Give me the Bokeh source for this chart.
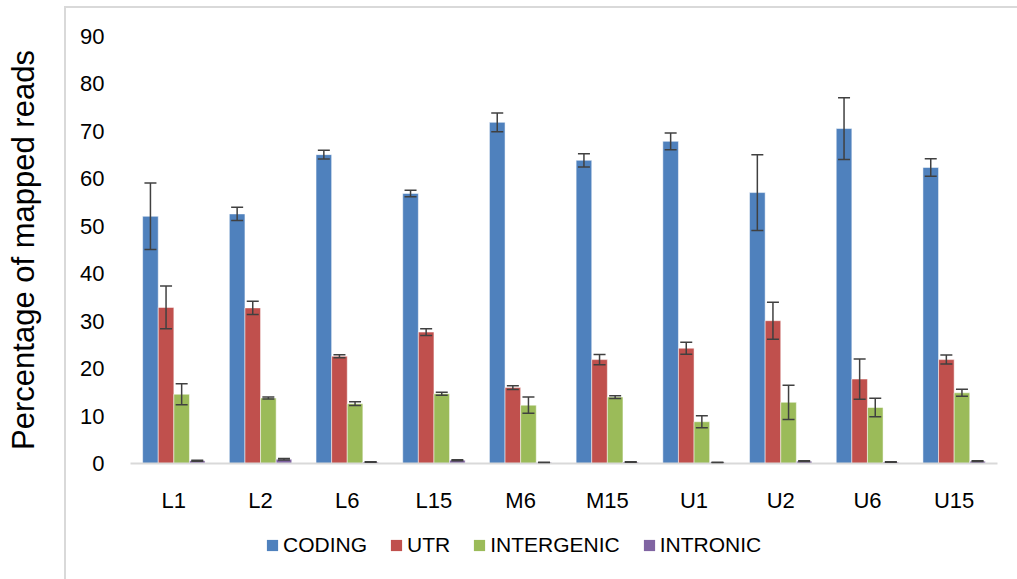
from bokeh.plotting import figure
from bokeh.layouts import column
from bokeh.models import (ColumnDataSource, FactorRange, Whisker, TeeHead, Legend,
                          LegendItem, FixedTicker, Range1d)
from bokeh.transform import dodge
from bokeh.embed import file_html
from bokeh.resources import INLINE

samples = ["L1", "L2", "L6", "L15", "M6", "M15", "U1", "U2", "U6", "U15"]
series = ["CODING", "UTR", "INTERGENIC", "INTRONIC"]
colors = ["#4F81BD", "#C0504D", "#9BBB59", "#8064A2"]

coding = [52.1, 52.6, 65.1, 56.9, 71.9, 63.9, 67.9, 57.1, 70.6, 62.4]
coding_err = [7.0, 1.4, 0.9, 0.7, 2.0, 1.4, 1.75, 8.0, 6.5, 1.85]
utr = [32.9, 32.8, 22.6, 27.7, 16.0, 21.9, 24.3, 30.1, 17.8, 21.9]
utr_err = [4.5, 1.4, 0.3, 0.7, 0.4, 1.1, 1.25, 3.9, 4.25, 0.95]
intergenic = [14.6, 13.8, 12.6, 14.7, 12.3, 14.0, 8.8, 12.9, 11.8, 14.9]
intergenic_err = [2.2, 0.2, 0.4, 0.3, 1.7, 0.3, 1.25, 3.6, 1.95, 0.75]
intronic = [0.6, 0.9, 0.3, 0.7, 0.2, 0.3, 0.2, 0.5, 0.3, 0.5]
intronic_err = [0.1, 0.15, 0.05, 0.1, 0.05, 0.05, 0.05, 0.1, 0.05, 0.1]

values = [coding, utr, intergenic, intronic]
errors = [coding_err, utr_err, intergenic_err, intronic_err]
offsets = [-0.27, -0.09, 0.09, 0.27]

font = "Liberation Sans"

# ---------------- main chart ----------------
x_range = FactorRange(*samples, range_padding=0)
p = figure(x_range=x_range, y_range=Range1d(0, 90),
           width=1017, height=515, output_backend="svg", toolbar_location=None,
           min_border_left=130, min_border_right=20, min_border_top=36,
           min_border_bottom=50)
p.outline_line_color = None
p.xgrid.grid_line_color = None
p.ygrid.grid_line_color = None
p.border_fill_alpha = 0
p.background_fill_color = "white"

# ---------------- legend strip (frame aligned with the chart's frame) ----------------
pl = figure(width=1017, height=64, output_backend="svg", toolbar_location=None,
            x_range=x_range, y_range=Range1d(100, 101),
            x_axis_location=None, y_axis_location=None,
            min_border_left=0, min_border_right=0, min_border_top=0,
            min_border_bottom=0)
pl.outline_line_color = None
pl.grid.grid_line_color = None
pl.border_fill_alpha = 0
pl.background_fill_alpha = 0

items = []
for name, col, vals, errs, off in zip(series, colors, values, errors, offsets):
    src = ColumnDataSource(dict(
        x=samples, top=vals,
        upper=[v + e for v, e in zip(vals, errs)],
        lower=[v - e for v, e in zip(vals, errs)]))
    p.vbar(x=dodge("x", off, range=p.x_range), top="top", width=0.18, bottom=0,
           source=src, fill_color=col, line_color="white", line_alpha=0.5,
           line_width=1)
    w = Whisker(base=dodge("x", off, range=p.x_range), upper="upper", lower="lower",
                source=src, line_color="#404040", line_width=1.5, level="annotation",
                upper_head=TeeHead(size=12, line_color="#404040", line_width=1.5),
                lower_head=TeeHead(size=12, line_color="#404040", line_width=1.5))
    p.add_layout(w)
    # same series in the legend strip (its y-range lies above the data, so only the
    # legend swatch is visible there)
    r = pl.vbar(x=dodge("x", off, range=pl.x_range), top="top", width=0.18, bottom=0,
                source=src, fill_color=col, line_color=None)
    items.append(LegendItem(label=name, renderers=[r]))

p.xaxis.axis_line_color = "#D9D9D9"
p.xaxis.axis_line_width = 2
p.xaxis.major_tick_line_color = None
p.xaxis.minor_tick_line_color = None
p.xaxis.major_label_text_font = font
p.xaxis.major_label_text_font_size = "22px"
p.xaxis.major_label_text_color = "#000000"
p.xaxis.major_label_standoff = 18

p.yaxis.ticker = FixedTicker(ticks=list(range(0, 91, 10)))
p.yaxis.axis_line_color = None
p.yaxis.major_tick_line_color = None
p.yaxis.minor_tick_line_color = None
p.yaxis.major_label_text_font = font
p.yaxis.major_label_text_font_size = "22px"
p.yaxis.major_label_text_color = "#000000"
p.yaxis.major_label_standoff = 20
p.yaxis.axis_label = "Percentage of mapped reads"
p.yaxis.axis_label_text_font = font
p.yaxis.axis_label_text_font_size = "31px"
p.yaxis.axis_label_text_font_style = "normal"
p.yaxis.axis_label_text_color = "#000000"
p.yaxis.axis_label_standoff = 36

legend = Legend(items=items, orientation="horizontal", location=(135, 22),
                glyph_width=14, glyph_height=14, label_standoff=4, spacing=22,
                label_text_font=font, label_text_font_size="21px",
                label_text_color="#000000", label_height=20, padding=0, margin=0,
                border_line_color=None, background_fill_alpha=0)
pl.add_layout(legend, "center")

# light grey chart-area frame (left and top edges), behind the transparent borders
layout = column(p, pl, spacing=0, styles={
    "background-color": "white",
    "background-image": "linear-gradient(#D9D9D9, #D9D9D9), linear-gradient(#D9D9D9, #D9D9D9)",
    "background-size": "2px 573px, 953px 2px",
    "background-position": "64px 6px, 64px 6px",
    "background-repeat": "no-repeat",
})

open("out.html", "w").write(file_html(layout, INLINE))
